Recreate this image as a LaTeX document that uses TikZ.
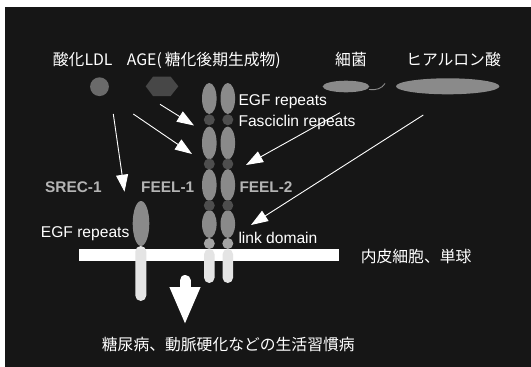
\documentclass[tikz,border=0pt]{standalone}
\usepackage{fontspec}
\setmainfont{Liberation Sans}
\newfontfamily\jpfont{Noto Sans CJK JP}
\usetikzlibrary{arrows.meta}

\definecolor{fondo}{HTML}{161616}
\definecolor{gris}{HTML}{8A8A8A}
\definecolor{grisosc}{HTML}{4E4E4E}
\definecolor{grisldl}{HTML}{6A6A6A}
\definecolor{grishex}{HTML}{474747}
\definecolor{grisclaro}{HTML}{A4A4A4}
\definecolor{palido}{HTML}{E4E4E4}
\definecolor{etiq}{HTML}{B4B4B4}

\begin{document}
\begin{tikzpicture}[x=1pt,y=-1pt,
    txt/.style={text=white,font=\fontsize{15.6}{17}\selectfont,inner sep=0pt,anchor=base west},
    jtxt/.style={text=white,font=\jpfont\fontsize{15.8}{17}\selectfont,inner sep=0pt,anchor=base west},
    rec/.style={text=etiq,font=\bfseries\fontsize{15.4}{17}\selectfont,inner sep=0pt,anchor=base west},
    flecha/.style={white,line width=0.9pt,-{Triangle[length=17pt,width=12pt]}}]

    \def\colA{209.3}
    \def\colB{227.8}
    \def\rx{7.3}

    \useasboundingbox (0,0) rectangle (531,367);
    \fill[white] (0,0) rectangle (531,367);
    \fill[fondo] (4.7,7.4) rectangle (531,367);

    %Ligandos
    \fill[grisldl] (99.5,86.7) circle (9.4);
    \fill[grishex] (145.7,86.3) -- (153,76.7) -- (170.7,76.7) -- (178.3,86.3) -- (170.7,96) -- (153,96) -- cycle;
    \fill[gris] (346,86.5) ellipse (23.3 and 5.8);
    \draw[gris,line width=0.9pt] (369,89.5) .. controls (376,90.5) and (382,88.5) .. (385,83.5);
    \fill[gris] (447.7,86.3) ellipse (51.7 and 8);

    \node[jtxt] (ldl) at (52.7,65.8) {酸化LDL};
    \node[jtxt] (age) at (126.7,65.8) {AGE(\hspace{3pt}糖化後期生成物)};
    \node[jtxt] (bact) at (335,65.8) {細菌};
    \node[jtxt] (hial) at (406,65.8) {ヒアルロン酸};

    %Membrana
    \fill[white] (79.3,249.3) rectangle (338.6,261.2);
    \node[jtxt] (endo) at (360.6,262) {内皮細胞、単球};

    %SREC-1
    \fill[gris] (141,223.5) ellipse (8.3 and 22.5);
    \fill[palido,rounded corners=5.5pt] (135.3,246) rectangle (146.3,301);

    %Cadenas FEEL
    \foreach \xc in {\colA,\colB}{
        \foreach \yc/\ry in {98.5/15.5,143/16.5,185/16,224/14}
            \fill[gris] (\xc,\yc) ellipse ({\rx} and \ry);
        \foreach \yc in {119.8,164,205.5}
            \fill[grisosc] (\xc,\yc) circle (5.5);
        \fill[grisclaro] (\xc,243.5) circle (5.5);
        \fill[palido,rounded corners=5.2pt] ({\xc-5.2},249) rectangle ({\xc+5.2},283);
    }

    %Etiquetas
    \node[txt] (egfA) at (238.3,105.7) {EGF repeats};
    \node[txt] (fasc) at (238.3,126.7) {Fasciclin repeats};
    \node[rec] (srec) at (45,192.3) {SREC-1};
    \node[rec] (feelA) at (141,192.3) {FEEL-1};
    \node[rec] (feelB) at (239.3,192.3) {FEEL-2};
    \node[txt] (egfB) at (40.7,237.3) {EGF repeats};
    \node[txt] (link) at (238.3,243.3) {link domain};

    %Flechas
    \coordinate (o1) at (113.3,114);
    \coordinate (d1) at (124.5,191.7);
    \coordinate (o2) at (133.3,114);
    \coordinate (d2) at (192,154);
    \coordinate (o3) at (160,104.3);
    \coordinate (d3) at (194,125.5);
    \coordinate (o4) at (340,112.7);
    \coordinate (d4) at (246,165);
    \coordinate (o5) at (423.3,115);
    \coordinate (d5) at (251,225);
    \foreach \k in {1,...,5}{
        \draw[flecha] (o\k) -- (d\k);
    }

    %Flecha grande
    \coordinate (g1) at (185,280.5);
    \coordinate (g2) at (185,325);
    \draw[white,line width=11pt,line cap=round,-{Triangle[length=38pt,width=28pt]}] (g1) -- (g2);
    \node[jtxt] (enf) at (101.7,350.4) {糖尿病、動脈硬化などの生活習慣病};

\end{tikzpicture}
\end{document}
